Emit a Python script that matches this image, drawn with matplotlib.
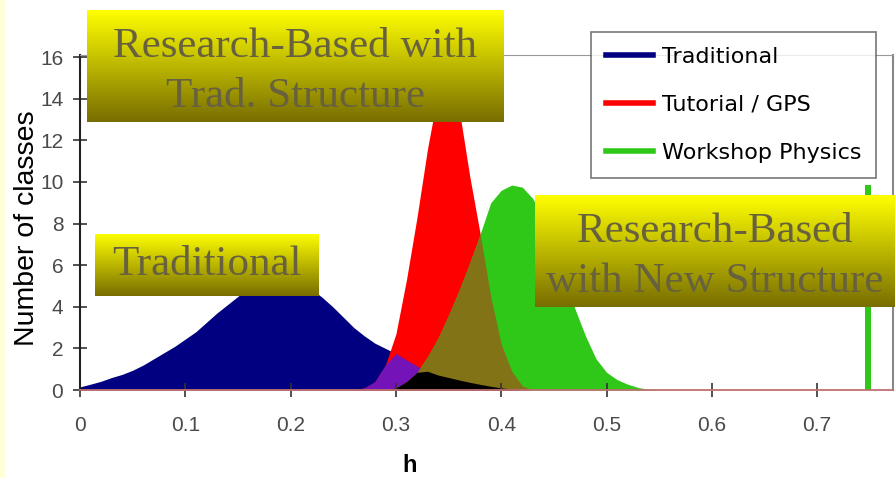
import numpy as np
import matplotlib
matplotlib.use("Agg")
import matplotlib.pyplot as plt
from matplotlib.lines import Line2D
from matplotlib.patches import Rectangle

# h values, 0.00 .. 0.55
h = np.round(np.linspace(0, 0.55, 56), 2)

traditional = [0.15, 0.28, 0.42, 0.6, 0.75, 0.95, 1.2, 1.5, 1.8, 2.1,
               2.45, 2.8, 3.25, 3.7, 4.1, 4.5, 4.9, 5.2, 5.4, 5.5,
               5.45, 5.2, 4.85, 4.45, 4.0, 3.5, 3.0, 2.6, 2.25, 2.0,
               1.75, 1.45, 1.15, 0.9, 0.72, 0.6, 0.48, 0.37, 0.27, 0.18,
               0.1, 0.05, 0, 0, 0, 0, 0, 0, 0, 0,
               0, 0, 0, 0, 0, 0]
tutorial = [0, 0, 0, 0, 0, 0, 0, 0, 0, 0,
            0, 0, 0, 0, 0, 0, 0, 0, 0, 0,
            0, 0, 0, 0, 0, 0, 0, 0.1, 0.4, 1.2,
            2.7, 5.3, 8.3, 11.6, 14.3, 15.5, 13.5, 10.3, 7.5, 4.5,
            2.2, 0.9, 0.2, 0, 0, 0, 0, 0, 0, 0,
            0, 0, 0, 0, 0, 0]
workshop = [0, 0, 0, 0, 0, 0, 0, 0, 0, 0,
            0, 0, 0, 0, 0, 0, 0, 0, 0, 0,
            0, 0, 0, 0, 0, 0, 0, 0, 0, 0,
            0.1, 0.4, 0.85, 1.6, 2.5, 3.6, 4.8, 6.1, 7.5, 9.0,
            9.6, 9.85, 9.75, 9.2, 8.2, 6.9, 5.4, 3.9, 2.6, 1.5,
            0.85, 0.5, 0.28, 0.12, 0.03, 0]
# lone Workshop Physics class near h = 0.75
spike_h = 0.748
spike_n = 9.85

series = ["Traditional", "Tutorial / GPS", "Workshop Physics"]
boxes = ["Research-Based with\nTrad. Structure", "Traditional",
         "Research-Based\nwith New Structure"]

navy, red, green = "#000080", "#ff0000", "#30c818"
purple, olive, black = "#7414b8", "#827316", "#000000"

trad = np.array(traditional)
tut = np.array(tutorial)
work = np.array(workshop)

W, H = 896, 478
fig = plt.figure(figsize=(W / 100, H / 100), dpi=100)
fig.patch.set_facecolor("white")
fig.add_artist(Rectangle((0, 0), 6 / W, 1, transform=fig.transFigure,
                         facecolor="#ffffd8", edgecolor="none"))

ax = fig.add_axes([80 / W, 1 - 390 / H, (893 - 80) / W, (390 - 55) / H])
ax.fill_between(h, 0, trad, color=navy, lw=0)
ax.fill_between(h, 0, tut, color=red, lw=0)
ax.fill_between(h, 0, work, color=green, lw=0)
ax.fill_between(h, 0, np.minimum(trad, tut), color=purple, lw=0)
ax.fill_between(h, 0, np.minimum(tut, work), color=olive, lw=0)
ax.fill_between(h, 0, np.minimum(np.minimum(trad, tut), work), color=black, lw=0)
ax.bar([spike_h], [spike_n], width=0.006, color=green, lw=0)

ax.set_xlim(0, 0.772)
ax.set_ylim(0, 16.1)
ax.set_xticks([0, 0.1, 0.2, 0.3, 0.4, 0.5, 0.6, 0.7])
ax.set_xticklabels(["0", "0.1", "0.2", "0.3", "0.4", "0.5", "0.6", "0.7"])
ax.set_yticks(range(0, 17, 2))
ax.tick_params(axis="x", direction="inout", length=10, width=1.2, color="#333333",
               labelsize=15, labelcolor="#4a4a4a", pad=14)
ax.tick_params(axis="y", direction="inout", length=10, width=1.2, color="#333333",
               labelsize=15, labelcolor="#4a4a4a", pad=7)
for lab in ax.get_xticklabels() + ax.get_yticklabels():
    lab.set_family("Liberation Sans")

ax.spines["left"].set_color("#222222")
ax.spines["left"].set_linewidth(1.5)
ax.spines["bottom"].set_color("#c07070")
ax.spines["bottom"].set_linewidth(1.3)
ax.spines["top"].set_color("#999999")
ax.spines["right"].set_color("#888888")
ax.spines["right"].set_linewidth(1.5)

handles = [Line2D([], [], color=c, lw=4) for c in (navy, red, green)]
leg = ax.legend(handles, series, loc="upper left",
                bbox_to_anchor=(591 / W, 1 - 32 / H), bbox_transform=fig.transFigure,
                borderaxespad=0, fancybox=False, edgecolor="#555555",
                prop={"family": "DejaVu Sans", "size": 16},
                handlelength=2.1, labelspacing=1.25, borderpad=0.68, handletextpad=0.4)
leg.get_frame().set_linewidth(1.2)

fig.text(27 / W, 1 - 228 / H, "Number of classes", rotation=90, ha="center", va="center",
         fontsize=20.5, family="Liberation Sans")
fig.text(410 / W, 1 - 465 / H, "h", ha="center", va="center", fontsize=17,
         fontweight="bold", family="Liberation Sans")

# yellow-to-olive gradient label boxes
top = np.array([1.0, 1.0, 0.0])
bottom = np.array([0.47, 0.43, 0.0])
t = np.linspace(0, 1, 200)[:, None, None]
grad = top * (1 - t) + bottom * t
box_px = [(87, 10, 503, 122), (95, 234, 319, 296), (535, 195, 895, 307)]
for (x0, y0, x1, y1), label in zip(box_px, boxes):
    bx = fig.add_axes([x0 / W, 1 - y1 / H, (x1 - x0) / W, (y1 - y0) / H])
    bx.imshow(grad, aspect="auto", extent=[0, 1, 0, 1])
    bx.set_axis_off()
    ty = 0.45 if "\n" in label else 0.5
    bx.text(0.5, ty, label, ha="center", va="center", fontsize=31,
            family="Liberation Serif", color="#67613e", linespacing=1.4)

fig.savefig("out.png", dpi=100)
